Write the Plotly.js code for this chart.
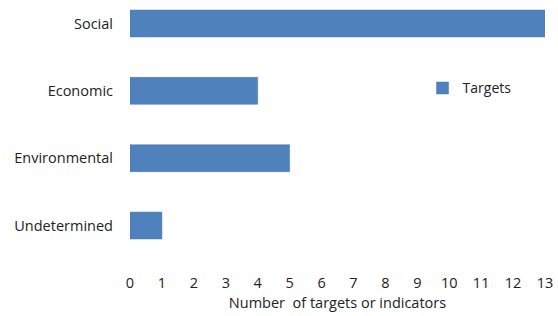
<!DOCTYPE html>
<html><head><meta charset="utf-8">
<script src="https://cdn.plot.ly/plotly-3.0.1.min.js"></script>
<style>html,body{margin:0;padding:0;background:#fff}</style>
</head><body><div id="chart" style="width:558px;height:316px"></div>
<script>
const categories = ["Social", "Economic", "Environmental", "Undetermined"];
const targets = [13, 4, 5, 1];
const xTicks = [0,1,2,3,4,5,6,7,8,9,10,11,12,13];

const trace = {
  type: "bar", orientation: "h", name: "Targets",
  y: categories, x: targets, width: 0.4,
  marker: {color: "#4F81BD", line: {color: "#4A78B0", width: 0.5}},
  showlegend: true
};
const layout = {
  width: 558, height: 316,
  margin: {l: 130, r: 13, t: 0, b: 56},
  paper_bgcolor: "#fff", plot_bgcolor: "#fff",
  font: {family: "Open Sans, sans-serif", size: 14.5, color: "#222"},
  xaxis: {range: [0, 13], tickvals: xTicks, showgrid: false, zeroline: false, showline: false,
          ticks: "", ticklen: 0, ticklabelstandoff: 12, tickfont: {size: 14.5, color: "#222"},
          title: {text: "Number  of targets or indicators", font: {size: 14.5, color: "#222"}, standoff: 7}},
  yaxis: {type: "category", categoryarray: categories, range: [3.512, -0.349], showgrid: false,
          zeroline: false, showline: false, ticks: "", ticklabelstandoff: 16, tickfont: {size: 14.5, color: "#222"}},
  legend: {x: 0.705, y: 0.66, xanchor: "left", yanchor: "middle", font: {size: 14, color: "#222"},
           itemwidth: 30, bgcolor: "rgba(0,0,0,0)"},
  bargap: 0.6
};
Plotly.newPlot("chart", [trace], layout, {displayModeBar: false, staticPlot: true});
</script></body></html>
